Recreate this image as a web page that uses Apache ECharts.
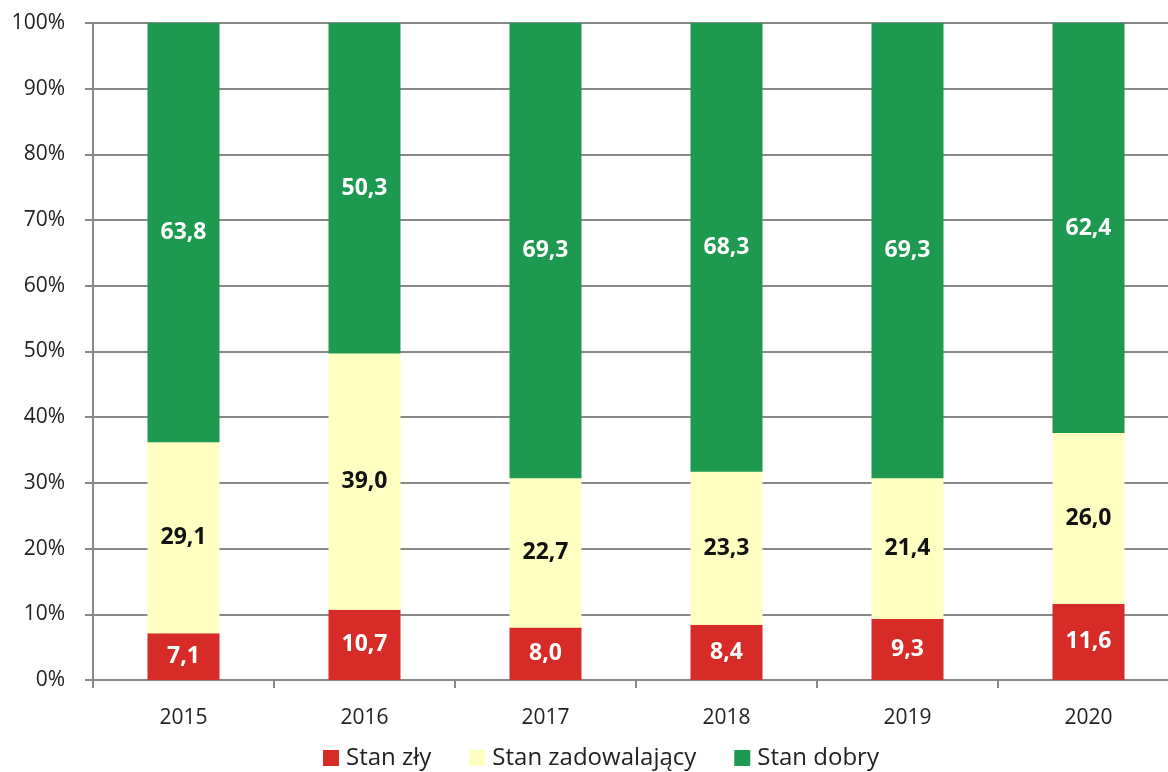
<!DOCTYPE html>
<html><head><meta charset="utf-8">
<script src="https://cdn.jsdelivr.net/npm/echarts@6/dist/echarts.min.js"></script>
<style>html,body{margin:0;padding:0;background:#fff;overflow:hidden}#c{width:1168px;height:772px}</style>
</head><body><div id="c"></div>
<script>
var years = ['2015','2016','2017','2018','2019','2020'];
var stanZly = [7.1, 10.7, 8.0, 8.4, 9.3, 11.6];
var stanZadow = [29.1, 39.0, 22.7, 23.3, 21.4, 26.0];
var stanDobry = [63.8, 50.3, 69.3, 68.3, 69.3, 62.4];

var FONT = '"Open Sans", "DejaVu Sans", sans-serif';
function fmt(p){ return p.value.toFixed(1).replace('.', ','); }
function lbl(color){
  return {show:true, position:'inside', formatter:fmt, color:color, fontWeight:'bold', fontSize:23, fontFamily:FONT};
}
var chart = echarts.init(document.getElementById('c'));
chart.setOption({
  animation:false,
  backgroundColor:'#fff',
  grid:{left:93, width:1086, top:23, bottom:92, outerBoundsMode:'none'},
  legend:{
    bottom:-3, left:318, itemWidth:16, itemHeight:16, itemGap:38, icon:'rect',
    textStyle:{fontSize:24, color:'#222', fontFamily:FONT, padding:[0,0,0,2]}
  },
  xAxis:{
    type:'category', data:years,
    axisLine:{lineStyle:{color:'#888', width:2}},
    axisTick:{show:true, length:8, lineStyle:{color:'#888', width:2}},
    axisLabel:{fontSize:21, color:'#222', margin:28, fontFamily:FONT}
  },
  yAxis:{
    type:'value', min:0, max:100, interval:10,
    axisLine:{show:true, lineStyle:{color:'#888', width:2}},
    axisTick:{show:true, length:8, lineStyle:{color:'#888', width:2}},
    splitLine:{lineStyle:{color:'#888', width:2}},
    axisLabel:{formatter:'{value}%', fontSize:21, color:'#222', margin:28, fontFamily:FONT}
  },
  series:[
    {name:'Stan zły', type:'bar', stack:'a', data:stanZly, barWidth:72, itemStyle:{color:'#D62B26'}, label:lbl('#fff')},
    {name:'Stan zadowalający', type:'bar', stack:'a', data:stanZadow, barWidth:72, itemStyle:{color:'#FFFFC2'}, label:lbl('#111')},
    {name:'Stan dobry', type:'bar', stack:'a', data:stanDobry, barWidth:72, itemStyle:{color:'#1E9950'}, label:lbl('#fff')}
  ]
});
</script></body></html>
